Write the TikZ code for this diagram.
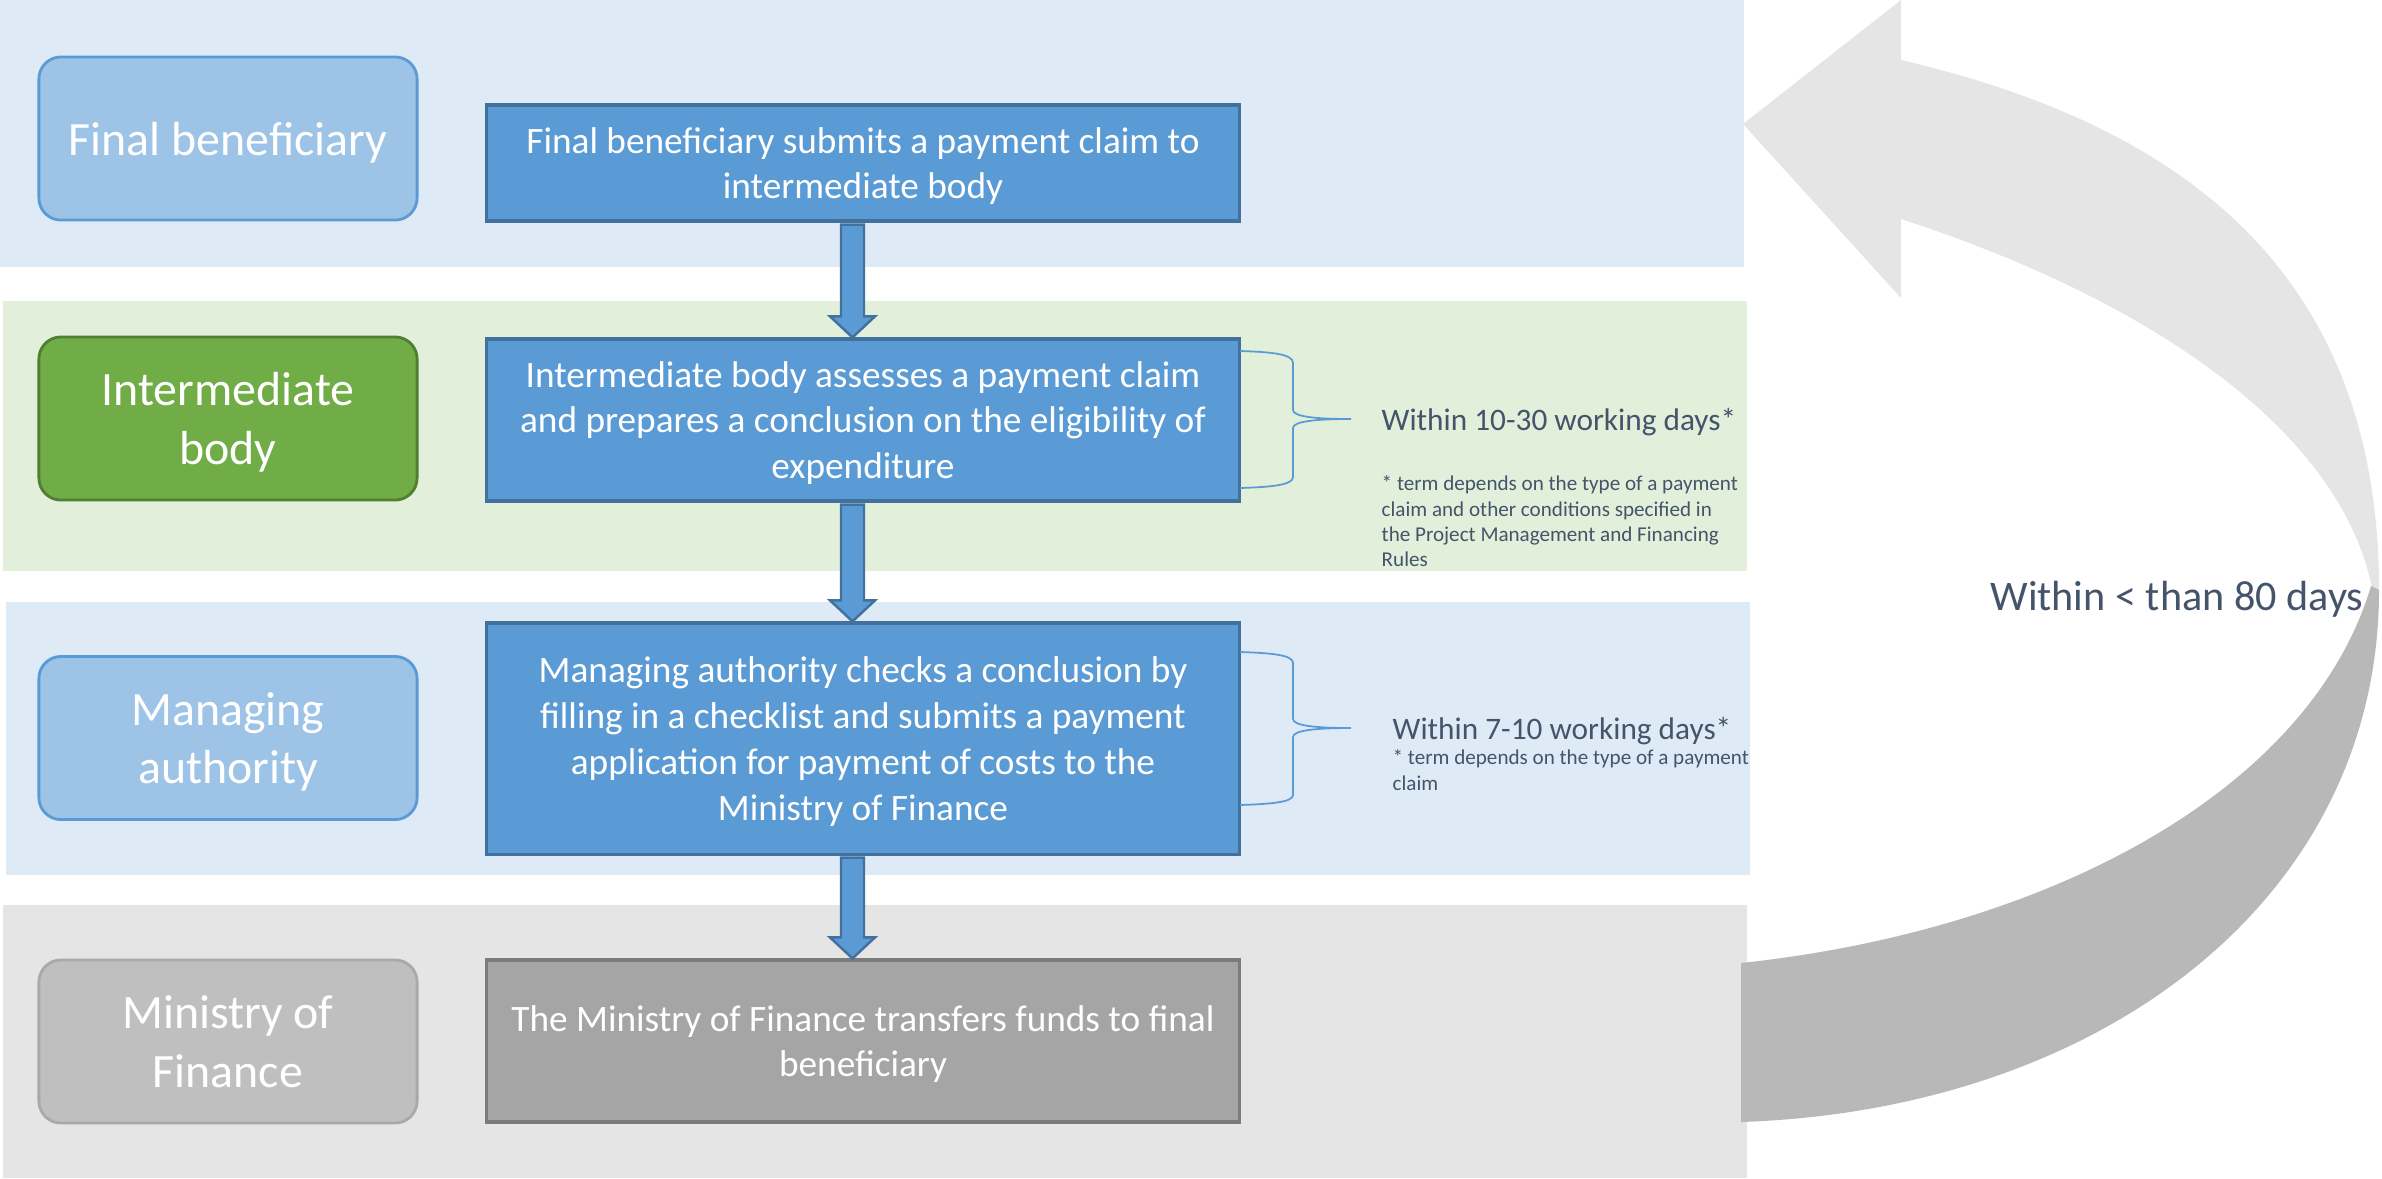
\documentclass[tikz,border=0pt]{standalone}
\usepackage{fontspec}
\setmainfont{Carlito}
\usetikzlibrary{calc}
\definecolor{lanebl}{HTML}{DEEAF6}
\definecolor{lanegr}{HTML}{E2EFDA}
\definecolor{lanegy}{HTML}{E5E5E5}
\definecolor{rolebl}{HTML}{9DC3E6}
\definecolor{roleblline}{HTML}{5B9BD5}
\definecolor{rolegr}{HTML}{70AD47}
\definecolor{rolegrline}{HTML}{507E32}
\definecolor{rolegy}{HTML}{BFBFBF}
\definecolor{rolegyline}{HTML}{A9A9A9}
\definecolor{stepbl}{HTML}{5B9BD5}
\definecolor{stepblline}{HTML}{41719C}
\definecolor{stepgy}{HTML}{A5A5A5}
\definecolor{stepgyline}{HTML}{7B7B7B}
\definecolor{notetext}{HTML}{44546A}
\definecolor{loopfront}{HTML}{E5E5E5}
\definecolor{loopback}{HTML}{B8B8B8}
\tikzset{
    rolebox/.style={rounded corners=0.22cm, minimum width=3.78cm, minimum height=1.63cm,
    	line width=0.8pt, text=white, align=center, text depth=0pt,
    	font=\fontsize{13.6}{16.6}\selectfont},
    stepbox/.style={minimum width=7.52cm, line width=0.9pt, text=white, align=center,
    	text depth=0pt, font=\fontsize{10.6}{13}\selectfont},
    flowarrow/.style={fill=stepbl, draw=stepblline, line width=0.7pt},
    bracecurve/.style={draw=stepbl, line width=0.5pt},
    note/.style={text=notetext, inner sep=0pt, align=left}
}

\begin{document}
\begin{tikzpicture}[x=0.01cm, y=-0.01cm]
	\useasboundingbox (0,0) rectangle (2382,1178);
	% lanes
	\fill[lanebl] (0,0) rectangle (1744,267);
	\fill[lanegr] (3,301) rectangle (1747,571);
	\fill[lanebl] (6,602) rectangle (1750,875);
	\fill[lanegy] (3,905) rectangle (1747,1178);

	\node (r1) [rolebox, fill=rolebl, draw=roleblline] at (228,138.5) {Final beneficiary};
	\node (r2) [rolebox, fill=rolegr, draw=rolegrline] at (228,418.5) {Intermediate\\body};
	\node (r3) [rolebox, fill=rolebl, draw=roleblline] at (228,738) {Managing\\authority};
	\node (r4) [rolebox, fill=rolegy, draw=rolegyline] at (228,1041.5) {Ministry of\\Finance};

	\node (m1) [stepbox, fill=stepbl, draw=stepblline, minimum height=1.16cm] at (863,163)
		{Final beneficiary submits a payment claim to\\intermediate body};
	\node (m2) [stepbox, fill=stepbl, draw=stepblline, minimum height=1.62cm] at (863,420)
		{Intermediate body assesses a payment claim\\and prepares a conclusion on the eligibility of\\expenditure};
	\node (m3) [stepbox, fill=stepbl, draw=stepblline, minimum height=2.31cm] at (863,738.5)
		{Managing authority checks a conclusion by\\filling in a checklist and submits a payment\\application for payment of costs to the\\Ministry of Finance};
	\node (m4) [stepbox, fill=stepgy, draw=stepgyline, minimum height=1.62cm] at (863,1041)
		{The Ministry of Finance transfers funds to final\\beneficiary};

	\foreach \a/\b in {m1/m2, m2/m3, m3/m4}
		\path[flowarrow] let \p1=($(\a.south)+(-0.105cm,-0.02cm)$), \p2=($(\b.north)+(-0.105cm,0)$) in
			(\x1-0.115cm,\y1) -- (\x1-0.115cm,\y2+0.21cm) -- (\x1-0.225cm,\y2+0.21cm) -- (\x1,\y2)
			-- (\x1+0.225cm,\y2+0.21cm) -- (\x1+0.115cm,\y2+0.21cm) -- (\x1+0.115cm,\y1) -- cycle;

	% braces and terms
	\draw[bracecurve] (1240,351) .. controls (1272,352) and (1293,354) .. (1293,363) -- (1293,410)
		.. controls (1293,417) and (1318,419) .. (1351,419) .. controls (1318,419) and (1293,421) .. (1293,428)
		-- (1293,477) .. controls (1293,485) and (1272,487) .. (1240,488);
	\draw[bracecurve] (1240,652) .. controls (1272,653) and (1293,655) .. (1293,663) -- (1293,719)
		.. controls (1293,726) and (1318,728) .. (1351,728) .. controls (1318,728) and (1293,730) .. (1293,737)
		-- (1293,795) .. controls (1293,802) and (1272,804) .. (1240,805);

	\node (t1) [note, anchor=west, text depth=0pt, font=\fontsize{8.9}{10.9}\selectfont] at (1381,419) {Within 10-30 working days*};
	\node (f1) [note, anchor=north west, font=\fontsize{6}{7.2}\selectfont] at (1381,475)
		{* term depends on the type of a payment\\claim and other conditions specified in\\the Project Management and Financing\\Rules};
	\node (t2) [note, anchor=west, text depth=0pt, font=\fontsize{8.9}{10.9}\selectfont] at (1392,728) {Within 7-10 working days*};
	\node (f2) [note, anchor=north west, font=\fontsize{6}{7.2}\selectfont] at (1392,749)
		{* term depends on the type of a payment\\claim};

	% loop arrow
	\fill[loopfront] (1901,60) .. controls (2180,125) and (2379,270) .. (2379,590)
		-- (2372,588) .. controls (2340,430) and (2150,300) .. (1901,219)
		-- (1901,298) -- (1743,124) -- (1901,0) -- cycle;
	\fill[loopback] (2371,586) .. controls (2310,790) and (2050,930) .. (1741,963)
		-- (1741,1122) .. controls (2100,1110) and (2379,900) .. (2379,590) -- cycle;
	\node (loop) [text=notetext, font=\fontsize{12}{14}\selectfont, anchor=east, inner sep=0pt,
		text depth=0pt] at (2364,596) {Within < than 80 days};
\end{tikzpicture}
\end{document}
